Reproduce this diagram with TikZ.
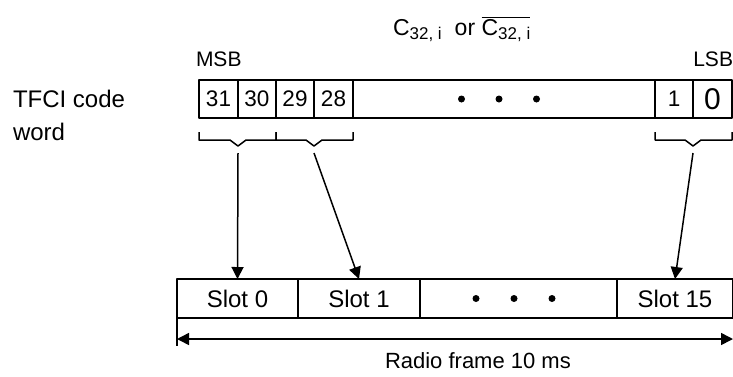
\documentclass[tikz,border=0pt]{standalone}
\usepackage{fontspec}
\setmainfont{Liberation Sans}
\usetikzlibrary{positioning,calc,arrows.meta}
\tikzset{
  bitbox/.style={draw,line width=1.5pt,minimum height=38pt,inner sep=0pt,outer sep=0pt,font=\fontsize{22.5}{22.5}\selectfont},
  slotbox/.style={draw,line width=1.5pt,minimum height=39pt,inner sep=0pt,outer sep=0pt,font=\fontsize{24}{24}\selectfont},
  lbl/.style={inner sep=0pt,outer sep=0pt},
}
\newcommand{\csub}{C\raisebox{-4pt}{\fontsize{17}{17}\selectfont 32, i}}

\begin{document}
\begin{tikzpicture}[x=1pt,y=-1pt,line join=round,>={Triangle[length=12pt,width=12pt]}]
\useasboundingbox (0,0) rectangle (733,376);
% code word bits
\node[bitbox,minimum width=39pt] (b31) at (218.5,99) {31};
\node[bitbox,minimum width=38pt,right=0pt of b31] (b30) {30};
\node[bitbox,minimum width=38pt,right=0pt of b30] (b29) {29};
\node[bitbox,minimum width=39pt,right=0pt of b29] (b28) {28};
\node[bitbox,minimum width=302pt,right=0pt of b28] (bdots) {};
\node[bitbox,minimum width=38pt,right=0pt of bdots] (b1) {1};
\node[bitbox,minimum width=39pt,right=0pt of b1,font=\fontsize{30}{30}\selectfont] (b0) {0};
\foreach \d in {-1,0,1}
\fill ($(bdots.center)+(\d*37.5-5,0)$) circle (3.5pt);
% labels
\node[lbl,anchor=base west,align=left,font=\fontsize{24}{33}\selectfont] (tfci) at (13,140) {TFCI code\\word};
\node[lbl,anchor=base west,font=\fontsize{21}{21}\selectfont] (msb) at (196,66) {MSB};
\node[lbl,anchor=base east,font=\fontsize{21}{21}\selectfont] (lsb) at (733,66) {LSB};
\node[lbl,anchor=base west,font=\fontsize{23}{23}\selectfont] (code) at (393,35) {\csub\hspace{13pt}or $\overline{\hbox{\csub}}$};
% braces
\foreach \l/\r/\n in {b31/b30/brA,b29/b28/brB,b1/b0/brC}{
\draw[line width=1.5pt] ($(\l.south west)+(0,14)$) -- ++(0,8) -- ($(\l.south east)+(-8,22)$) -- ($(\l.south east)+(0,28)$) -- ($(\l.south east)+(8,22)$) -- ($(\r.south east)+(0,22)$) -- ++(0,-8);
\coordinate (\n) at ($(\l.south east)+(0,35)$);
}
% slots of the frame
\node[slotbox,minimum width=121pt] (s0) at (237.5,298.5) {Slot 0};
\node[slotbox,minimum width=122pt,right=0pt of s0] (s1) {Slot 1};
\node[slotbox,minimum width=197pt,right=0pt of s1] (sdots) {};
\node[slotbox,minimum width=116pt,right=0pt of sdots] (s15) {Slot 15};
\foreach \d in {-1,0,1}
\fill ($(sdots.center)+(\d*38-4.5,0)$) circle (3.5pt);
\draw[->,line width=1.5pt] (brA) -- (s0.north);
\draw[->,line width=1.5pt] (brB) -- (s1.north);
\draw[->,line width=1.5pt] (brC) -- (s15.north);
% frame length
\draw[line width=1.5pt] (s0.south west) -- ++(0,28);
\draw[<->,line width=1.5pt] ($(s0.south west)+(0,21)$) -- ($(s15.south east)+(0,21)$);
\node[lbl,anchor=base west,font=\fontsize{22}{22}\selectfont] (frame) at (385,368) {Radio frame 10 ms};
\end{tikzpicture}
\end{document}
